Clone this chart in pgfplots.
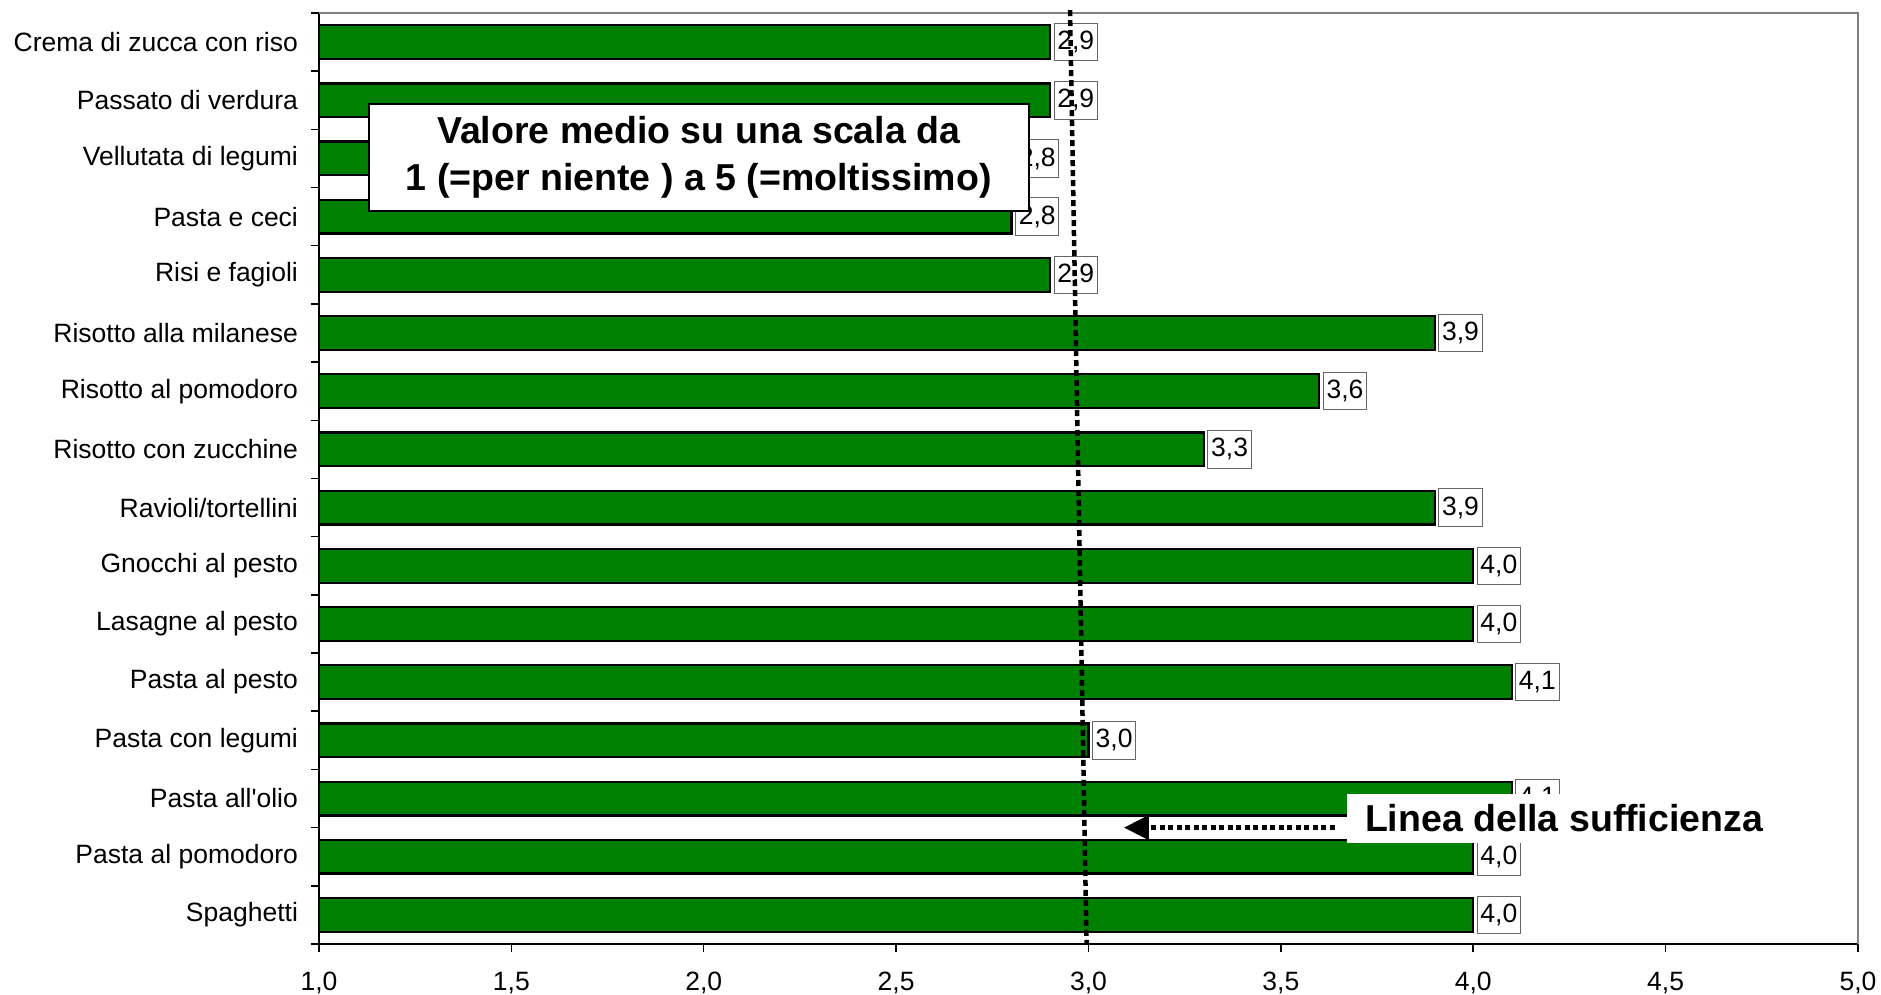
\documentclass[border=0pt]{standalone}
\usepackage{fontspec}
\setmainfont{Liberation Sans}
\usepackage{pgfplots}
\pgfplotsset{compat=1.18}
\usetikzlibrary{arrows.meta}
\definecolor{bargreen}{RGB}{0,128,0}
\begin{document}
\begin{tikzpicture}[font=\fontsize{10.6}{12.6}\selectfont]
\useasboundingbox (-127.6pt,-20.4pt) rectangle (624.8pt,377.6pt);
\begin{axis}[
  at={(0,0)}, anchor=south west,
  scale only axis, width=615.6pt, height=372.4pt,
  xmin=1, xmax=5, ymin=0.5, ymax=16.5,
  xtick={1,1.5,2,2.5,3,3.5,4,4.5,5},
  xticklabel style={yshift=-4.3pt, /pgf/number format/fixed, /pgf/number format/fixed zerofill, /pgf/number format/precision=1, /pgf/number format/use comma, /pgf/number format/assume math mode=true},
  ytick={1,...,16},
  yticklabels={Spaghetti, Pasta al pomodoro, Pasta all\textquotesingle olio, Pasta con legumi, Pasta al pesto, Lasagne al pesto, Gnocchi al pesto, Ravioli/tortellini, Risotto con zucchine, Risotto al pomodoro, Risotto alla milanese, Risi e fagioli, Pasta e ceci, Vellutata di legumi, Passato di verdura, Crema di zucca con riso},
  yticklabel style={xshift=-1.6pt},
  major y tick style={draw=none},
  minor ytick={0.5,1.5,...,16.5},
  tick align=outside,
  major tick length=3.3pt, minor tick length=3.3pt,
  tick style={black, line width=0.6pt},
  axis x line*=bottom, axis y line*=left,
  x axis line style={-}, y axis line style={-},
  axis line style={black, line width=0.8pt},
  xbar, bar width=0.58,
  clip mode=individual,
  point meta=x,
  nodes near coords={\pgfmathprintnumber[fixed,fixed zerofill,precision=1,use comma,assume math mode=true]{\pgfplotspointmeta}},
  every node near coord/.append style={draw=black!60, fill=white, line width=0.4pt, inner xsep=1.3pt, inner ysep=0pt, minimum height=15pt, anchor=west, xshift=1.4pt, text=black},
]
\addplot[fill=bargreen, draw=black, line width=0.9pt] coordinates {
(4.0,1) (4.0,2) (4.1,3) (3.0,4) (4.1,5) (4.0,6) (4.0,7) (3.9,8)
(3.3,9) (3.6,10) (3.9,11) (2.9,12) (2.8,13) (2.8,14) (2.9,15) (2.9,16)};
\draw[gray, line width=0.8pt] (rel axis cs:0,1) -- (rel axis cs:1,1) -- (rel axis cs:1,0);
\draw[black, line width=1.8pt, dash pattern=on 2.4pt off 1.6pt] (axis cs:2.952,16.55) -- (axis cs:2.995,0.5);
\node[draw=black, line width=0.8pt, fill=white, minimum width=264pt, minimum height=42.8pt, align=center, font=\fontsize{15}{18.7}\selectfont\bfseries] at (axis cs:1.987,14.02) {Valore medio su una scala da\\1 (=per niente ) a 5 (=moltissimo)};
\node[fill=white, minimum width=173.6pt, minimum height=19.6pt, font=\fontsize{15}{18}\selectfont\bfseries] at (axis cs:4.236,2.66) {Linea della sufficienza};
\draw[line width=2pt, dash pattern=on 2pt off 1.4pt, -{Triangle[length=10pt,width=9.5pt]}] (axis cs:3.64,2.5) -- (axis cs:3.092,2.5);
\end{axis}
\end{tikzpicture}
\end{document}
